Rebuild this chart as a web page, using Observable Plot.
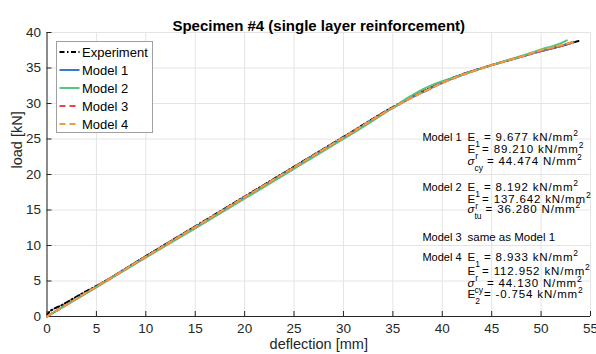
<!DOCTYPE html>
<html><head><meta charset="utf-8">
<script src="https://cdn.jsdelivr.net/npm/d3@7"></script>
<script src="https://cdn.jsdelivr.net/npm/@observablehq/plot@0.6"></script>
<style>
body{margin:0;background:#fff;}
#chart svg{font-family:"Liberation Sans",Arial,Helvetica,sans-serif;background:#fff;}
</style></head><body><div id="chart"></div>
<script>
// ---- data ----
const title = "Specimen #4 (single layer reinforcement)";
const xLabel = "deflection [mm]";
const yLabel = "load [kN]";
const xTicks = [0,5,10,15,20,25,30,35,40,45,50,55];
const yTicks = [0,5,10,15,20,25,30,35,40];
const seriesNames = ["Experiment","Model 1","Model 2","Model 3","Model 4"];

const expDeflection = [0,0.2,0.6,1.5,2.5,3.5,5,10,15,20,25,30,35,37,38.5,39.5,40.5,42,45,47,50,52,54];
const expLoad       = [0,0.6,1.0,1.6,2.4,3.2,4.3,8.5,12.7,16.9,21.1,25.3,29.5,31.0,32.0,32.7,33.3,34.1,35.4,36.2,37.4,38.1,38.9];

const m1Deflection = [0,5,10,15,20,25,30,35,37,38.5,39.5,40.5,42,45,48,50,52,53.3];
const m1Load       = [0,4.2,8.4,12.6,16.8,21.0,25.2,29.4,30.9,31.9,32.6,33.2,34.0,35.4,36.6,37.4,38.1,38.7];

const m2Deflection = [0,5,10,15,20,25,30,33,35,36.5,38,39.5,41,43,45,48,50,52,52.6];
const m2Load       = [0,4.1,8.3,12.4,16.6,20.8,25.0,27.6,29.4,30.8,32.0,32.9,33.6,34.5,35.4,36.7,37.6,38.5,38.9];

const m3Deflection = [0,5,10,15,20,25,30,35,37,38.5,39.5,40.5,42,45,48,50,52,53.3];
const m3Load       = [0,4.2,8.4,12.6,16.8,21.0,25.2,29.4,30.9,31.9,32.6,33.2,34.0,35.4,36.6,37.4,38.1,38.7];

const m4Deflection = [0,5,10,15,20,25,30,35,37,38.5,39.5,40.5,42,45,48,50,52,53.5];
const m4Load       = [0,4.2,8.4,12.6,16.8,21.0,25.2,29.4,30.9,31.9,32.6,33.2,34.0,35.4,36.6,37.5,38.2,38.8];

const annModels = ["Model 1","Model 2","Model 3","Model 4"];
const annParams = [
  [["E","1"," = 9.677 kN/mm","2"],["E","r"," = 89.210 kN/mm","2"],["σ","cy"," = 44.474 N/mm","2"]],
  [["E","1"," = 8.192 kN/mm","2"],["E","r"," = 137.642 kN/mm","2"],["σ","tu"," = 36.280 N/mm","2"]],
  [["same as Model 1","","",""]],
  [["E","1"," = 8.933 kN/mm","2"],["E","r"," = 112.952 kN/mm","2"],["σ","cy"," = 44.130 N/mm","2"],["E","2"," = -0.754 kN/mm","2"]]
];

// ---- styles ----
const colors = {"Experiment":"#000000","Model 1":"#3379cf","Model 2":"#55c583","Model 3":"#e84545","Model 4":"#f39a3a"};
const dashes = {"Experiment":"5,2.5,1.5,2.5","Model 1":null,"Model 2":null,"Model 3":"6,4","Model 4":"6,4"};

function rows(name, xs, ys){ return xs.map((d,i)=>({series:name, deflection:d, load:ys[i]})); }
const data = {
  "Experiment": rows("Experiment", expDeflection, expLoad),
  "Model 1": rows("Model 1", m1Deflection, m1Load),
  "Model 2": rows("Model 2", m2Deflection, m2Load),
  "Model 3": rows("Model 3", m3Deflection, m3Load),
  "Model 4": rows("Model 4", m4Deflection, m4Load)
};

const axisColor = "#262626";
const gridColor = "#e4e4e4";
const fontFam = '"Liberation Sans", Arial, sans-serif';

const lineMarks = seriesNames.map(n => Plot.line(data[n], {
  x:"deflection", y:"load", stroke: colors[n], strokeWidth: 2,
  strokeDasharray: dashes[n] || undefined, curve:"monotone-x"
}));

const plot = Plot.plot({
  width: 596, height: 354,
  marginLeft: 46.5, marginRight: 6, marginTop: 32, marginBottom: 38,
  style: {fontFamily: fontFam, background:"#fff", overflow:"visible"},
  x: {domain:[0,55]},
  y: {domain:[0,40]},
  marks: [
    Plot.gridX(xTicks, {stroke: gridColor, strokeOpacity: 1}),
    Plot.gridY(yTicks, {stroke: gridColor, strokeOpacity: 1}),
    Plot.ruleX([0], {stroke: axisColor}),
    Plot.ruleY([0], {stroke: axisColor}),
    Plot.axisX(xTicks, {anchor:"bottom", tickSize: 5, dy: -5, tickFormat: () => "", label: null, stroke: axisColor}),
    Plot.axisY(yTicks, {anchor:"left", tickSize: 5, dx: 5, tickFormat: () => "", label: null, stroke: axisColor}),
    Plot.axisX(xTicks, {anchor:"bottom", tickSize: 0, tickPadding: 7, fontSize: 13.5, label: null, color: axisColor}),
    Plot.axisY(yTicks, {anchor:"left", tickSize: 0, tickPadding: 6, fontSize: 13.5, label: null, color: axisColor}),
    ...lineMarks,
    Plot.text([title], {frameAnchor:"top", dy:-12, fontSize:15, fontWeight:"bold", fill:"#000"}),
    Plot.text([xLabel], {frameAnchor:"bottom", dy:32, fontSize:14.5, fill:axisColor}),
    Plot.text([yLabel], {frameAnchor:"left", dx:-30, dy:-6, rotate:-90, fontSize:14.5, fill:axisColor})
  ]
});

document.getElementById("chart").appendChild(plot);

// ---- legend ----
const svg = d3.select(plot);
const lg = svg.append("g").attr("font-size", 13).attr("font-family", fontFam).attr("text-anchor", "start");
const lgX = 56.5, lgY = 41.5, lgW = 96, lgH = 91, lgStep = 18;
lg.append("rect").attr("x", lgX).attr("y", lgY).attr("width", lgW).attr("height", lgH)
  .attr("fill", "#fff").attr("stroke", "#a0a0a0").attr("stroke-width", 1);
seriesNames.forEach((n, i) => {
  const cy = lgY + 10.5 + i * lgStep;
  lg.append("line").attr("x1", lgX + 3).attr("x2", lgX + 23).attr("y1", cy).attr("y2", cy)
    .attr("stroke", colors[n]).attr("stroke-width", 2)
    .attr("stroke-dasharray", dashes[n] || null);
  lg.append("text").attr("x", lgX + 25.5).attr("y", cy).attr("dy", "0.35em").attr("fill", "#000")
    .attr("text-anchor", "start").text(n);
});

// ---- annotations ----
const xs = plot.scale("x");
const annRight = xs.apply(42.0);
const rowBaselines = [[140.5,153,165],[190.5,202.5,213],[240.5],[260.5,275,287,298]];
const ag = svg.append("g").attr("font-size", 11).attr("fill", "#000")
  .attr("font-family", fontFam);
annModels.forEach((m, i) => {
  ag.append("text").attr("x", annRight).attr("y", rowBaselines[i][0]).attr("text-anchor", "end").text(m);
  annParams[i].forEach((p, j) => {
    const t = ag.append("text").attr("x", annRight + 6).attr("y", rowBaselines[i][j])
      .attr("text-anchor", "start").attr("font-size", 11.5);
    const sym = t.append("tspan").text(p[0]);
    if (p[0] === "σ") sym.attr("font-style", "italic");
    if (p[1]) t.append("tspan").attr("dy", 6).attr("font-size", 8.5).text(p[1]);
    if (p[2]) t.append("tspan").attr("dy", p[1] ? -6 : 0).attr("letter-spacing", p[1] ? 0.85 : 0.3).text(p[2]);
    if (p[3]) t.append("tspan").attr("dy", -5).attr("font-size", 8.5).text(p[3]);
  });
});
</script></body></html>
